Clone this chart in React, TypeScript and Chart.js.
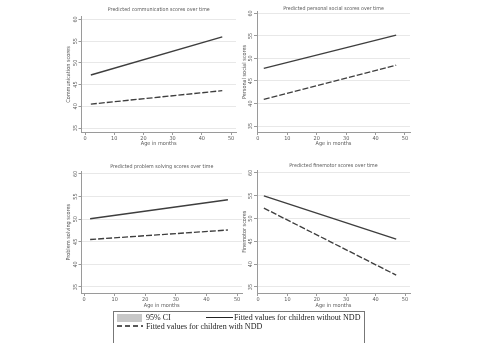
import React, { useEffect, useRef } from "react";
import { Chart, registerables } from "chart.js";

Chart.register(...registerables);

// Age range covered by the fitted lines (months)
const ages = [2, 47];
const xTicks = [0, 10, 20, 30, 40, 50];
const yTicks = [35, 40, 45, 50, 55, 60];

// Fitted scores at the first and last age, children without / with NDD
const commWithout = [47.2, 56.0];
const commWith = [40.5, 43.6];
const socialWithout = [47.8, 55.2];
const socialWith = [40.9, 48.5];
const problemWithout = [50.1, 54.3];
const problemWith = [45.5, 47.6];
const fineWithout = [55.0, 45.5];
const fineWith = [52.3, 37.6];

const panelTitles = [
  "Predicted communication scores over time",
  "Predicted personal social scores over time",
  "Predicted problem solving scores over time",
  "Predicted finemotor scores over time",
];
const yTitles = [
  "Communication scores",
  "Personal social scores",
  "Problem solving scores",
  "Finemotor scores",
];
const xTitle = "Age in months";

const legendLabels = [
  "95% CI",
  "Fitted values for children without NDD",
  "Fitted values for children with NDD",
];

const SANS =
  "'Liberation Sans Narrow', 'Arial Narrow', 'DejaVu Sans Condensed', 'Liberation Sans', Arial, sans-serif";
const SERIF = "'Liberation Serif', 'Times New Roman', serif";
const LINE = "#3e3e3e";
const TEXT = "#5a5a5a";
const AXIS = "#9a9a9a";
const GRID = "#e8e8e8";
const TITLE_SIZE = 5.3;
const TICK_SIZE = 5.5;

type Layout = {
  x: number;
  y: number;
  w: number;
  h: number;
  padRight: number;
  yAxisW: number;
  xAxisH: number;
  titleTop: number;
  titleBottom: number;
  yTitlePad: number;
  xTitlePad: number;
  xMin: number;
  xMax: number;
  yMin: number;
  yMax: number;
};

const layouts: Layout[] = [
  { x: 60, y: 0, w: 185, h: 150, padRight: 9, yAxisW: 21.5, xAxisH: 18, titleTop: 6.8, titleBottom: 3.8, yTitlePad: 5.7, xTitlePad: 2.7, xMin: -1.2, xMax: 51.7, yMin: 34.08, yMax: 60.57 },
  { x: 236, y: 0, w: 184, h: 150, padRight: 10, yAxisW: 21, xAxisH: 18, titleTop: 5.8, titleBottom: -0.2, yTitlePad: 5.2, xTitlePad: 2.7, xMin: -0.3, xMax: 51.7, yMin: 33.67, yMax: 60.33 },
  { x: 60, y: 155, w: 190, h: 155, padRight: 8, yAxisW: 21.5, xAxisH: 17, titleTop: 8.8, titleBottom: 1.3, yTitlePad: 5.7, xTitlePad: 0.7, xMin: -0.82, xMax: 51.6, yMin: 33.67, yMax: 60.55 },
  { x: 236, y: 155, w: 184, h: 155, padRight: 10, yAxisW: 21, xAxisH: 17, titleTop: 7.8, titleBottom: 1.3, yTitlePad: 5.2, xTitlePad: 0.7, xMin: -0.34, xMax: 51.7, yMin: 33.68, yMax: 60.55 },
];

const series = [
  [commWithout, commWith],
  [socialWithout, socialWith],
  [problemWithout, problemWith],
  [fineWithout, fineWith],
];

function buildConfig(i: number): any {
  const L = layouts[i];
  const [without, withNdd] = series[i];
  const tickFont = { family: SANS, size: TICK_SIZE, weight: "normal" as const };
  return {
    type: "line",
    data: {
      datasets: [
        {
          label: legendLabels[1],
          data: ages.map((a, k) => ({ x: a, y: without[k] })),
          borderColor: LINE,
          borderWidth: 1.35,
          pointRadius: 0,
          fill: false,
        },
        {
          label: legendLabels[2],
          data: ages.map((a, k) => ({ x: a, y: withNdd[k] })),
          borderColor: LINE,
          borderWidth: 1.35,
          borderDash: [6, 2],
          pointRadius: 0,
          fill: false,
        },
      ],
    },
    options: {
      animation: false,
      responsive: false,
      devicePixelRatio: 1,
      events: [],
      layout: { padding: { left: 0, right: L.padRight, top: 0, bottom: 0 } },
      plugins: {
        legend: { display: false },
        tooltip: { enabled: false },
        title: {
          display: true,
          text: panelTitles[i],
          fullSize: false,
          color: TEXT,
          font: { family: SANS, size: TITLE_SIZE, weight: "normal" },
          padding: { top: L.titleTop, bottom: L.titleBottom },
        },
      },
      scales: {
        x: {
          type: "linear",
          min: L.xMin,
          max: L.xMax,
          afterBuildTicks: (s: any) => {
            s.ticks = xTicks.map((v) => ({ value: v }));
          },
          afterFit: (s: any) => {
            s.height = L.xAxisH;
          },
          grid: { drawOnChartArea: false, tickLength: 3, color: AXIS, tickColor: AXIS, lineWidth: 1 },
          border: { display: true, color: AXIS, width: 1 },
          ticks: { color: TEXT, font: tickFont, padding: 0, maxRotation: 0, minRotation: 0, autoSkip: false },
          title: {
            display: true,
            text: xTitle,
            color: TEXT,
            font: tickFont,
            padding: { top: 0, bottom: L.xTitlePad },
          },
        },
        y: {
          type: "linear",
          min: L.yMin,
          max: L.yMax,
          afterBuildTicks: (s: any) => {
            s.ticks = yTicks.map((v) => ({ value: v }));
          },
          afterFit: (s: any) => {
            s.width = L.yAxisW;
          },
          grid: { color: GRID, tickColor: AXIS, tickLength: 3, lineWidth: 1 },
          border: { display: true, color: AXIS, width: 1 },
          ticks: {
            color: TEXT,
            font: tickFont,
            padding: 0,
            minRotation: 90,
            maxRotation: 90,
            crossAlign: "center",
            autoSkip: false,
          },
          title: {
            display: true,
            text: yTitles[i],
            color: TEXT,
            font: tickFont,
            padding: { top: L.yTitlePad, bottom: 0 },
          },
        },
      },
    },
  };
}

function Panel({ index }: { index: number }) {
  const ref = useRef<HTMLCanvasElement>(null);
  const L = layouts[index];
  useEffect(() => {
    const chart = new Chart(ref.current as HTMLCanvasElement, buildConfig(index));
    return () => chart.destroy();
  }, [index]);
  return (
    <canvas
      ref={ref}
      width={L.w}
      height={L.h}
      style={{ position: "absolute", left: L.x, top: L.y, width: L.w, height: L.h }}
    />
  );
}

function Legend() {
  const text: React.CSSProperties = {
    position: "absolute",
    fontFamily: SERIF,
    fontSize: 8,
    lineHeight: "9px",
    color: "#222",
    whiteSpace: "nowrap",
  };
  return (
    <div
      style={{
        position: "absolute",
        left: 113,
        top: 311,
        width: 252,
        height: 40,
        border: "1px solid #777",
        boxSizing: "border-box",
        willChange: "transform",
        background: "#fff",
      }}
    >
      <div style={{ position: "absolute", left: 3, top: 1.5, width: 25, height: 8.5, background: "#c8c8c8" }} />
      <div style={{ ...text, left: 32, top: 1 }}>{legendLabels[0]}</div>
      <div style={{ position: "absolute", left: 92, top: 5, width: 27, height: 1.3, background: "#222" }} />
      <div style={{ ...text, left: 120, top: 1 }}>{legendLabels[1]}</div>
      <svg style={{ position: "absolute", left: 3, top: 12 }} width={26} height={4}>
        <line x1={0} y1={2} x2={26} y2={2} stroke="#222" strokeWidth={1.3} strokeDasharray="5 3" />
      </svg>
      <div style={{ ...text, left: 32, top: 9.5 }}>{legendLabels[2]}</div>
    </div>
  );
}

export default function App() {
  return (
    <div
      style={{
        position: "absolute",
        left: 0,
        top: 0,
        width: 477,
        height: 343,
        background: "#fff",
        overflow: "hidden",
      }}
    >
      {layouts.map((_, i) => (
        <Panel key={i} index={i} />
      ))}
      <Legend />
    </div>
  );
}
